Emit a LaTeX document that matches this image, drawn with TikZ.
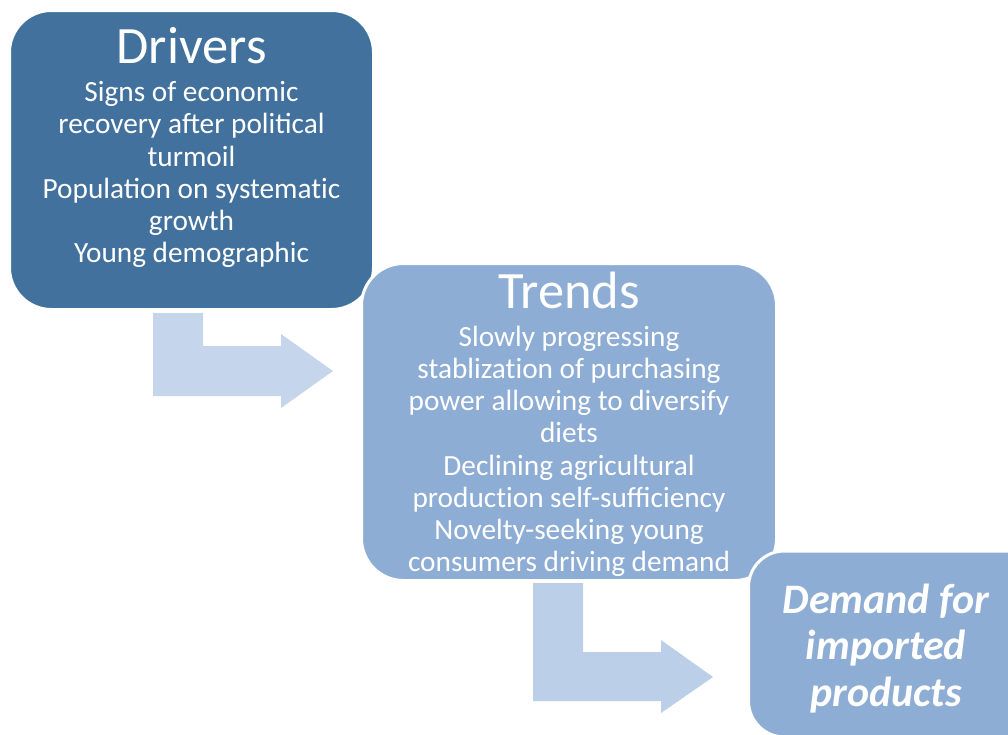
\documentclass[tikz,border=0pt]{standalone}
\usepackage{fontspec}
\setmainfont{Carlito}
\newcommand\tisep{\kern0pt }
\definecolor{drvc}{RGB}{65,113,156}
\definecolor{trdc}{RGB}{142,173,213}
\definecolor{arwa}{RGB}{197,213,235}
\definecolor{arwb}{RGB}{188,207,232}
\begin{document}
\begin{tikzpicture}[x=1pt,y=-1pt,
  boxshape/.style={rectangle, rounded corners=42pt, draw=white, line width=3pt, inner sep=0pt},
  titletext/.style={text=white, font=\fontsize{52.5}{60}\selectfont, anchor=base},
  bodytext/.style={text=white, font=\fontsize{29.3}{32.2}\selectfont, align=center, anchor=base, inner sep=0pt},
  endtext/.style={text=white, font=\bfseries\itshape\fontsize{42}{46.8}\selectfont, align=center, anchor=base, inner sep=0pt}]
\useasboundingbox (0,0) rectangle (1008,734);
\clip (0,0) rectangle (1008,734);
% Drivers box
\node[boxshape, fill=drvc, minimum width=364pt, minimum height=299pt] (drivers) at (191.5,160) {};
\node[titletext] (drvtitle) at (191.5,63) {Drivers};
\node[bodytext] (drvbody) at (191.5,262.7) {Signs of economic\\recovery after poli\tisep tical\\turmoil\\Population on systemat\tisep ic\\growth\\Young demographic};
% arrow 1
\fill[arwa] (153,313) -- (203,313) -- (203,346) -- (281,346) -- (281,334) -- (333,371) -- (281,408) -- (281,396) -- (153,396) -- cycle;
% Trends box
\node[boxshape, fill=trdc, minimum width=415pt, minimum height=317pt] (trends) at (569,422) {};
\node[titletext] (trdtitle) at (569,308) {Trends};
\node[bodytext] (trdbody) at (569,571.7) {Slowly progressing\\stablizat\tisep ion of purchasing\\power allowing to diversify\\diets\\Declining agricultural\\product\tisep ion self-sufficiency\\Novelty-seeking young\\consumers driving demand};
% arrow 2
\fill[arwb] (533,583) -- (583,583) -- (583,652) -- (661,652) -- (661,640) -- (713,677) -- (661,713) -- (661,701) -- (533,701) -- cycle;
% Demand box
\node[boxshape, rounded corners=36pt, fill=trdc, minimum width=303pt, minimum height=186pt] (demand) at (900,644) {};
\node[endtext] (dmdtext) at (886,706.7) {Demand for\\imported\\products};
\end{tikzpicture}
\end{document}
